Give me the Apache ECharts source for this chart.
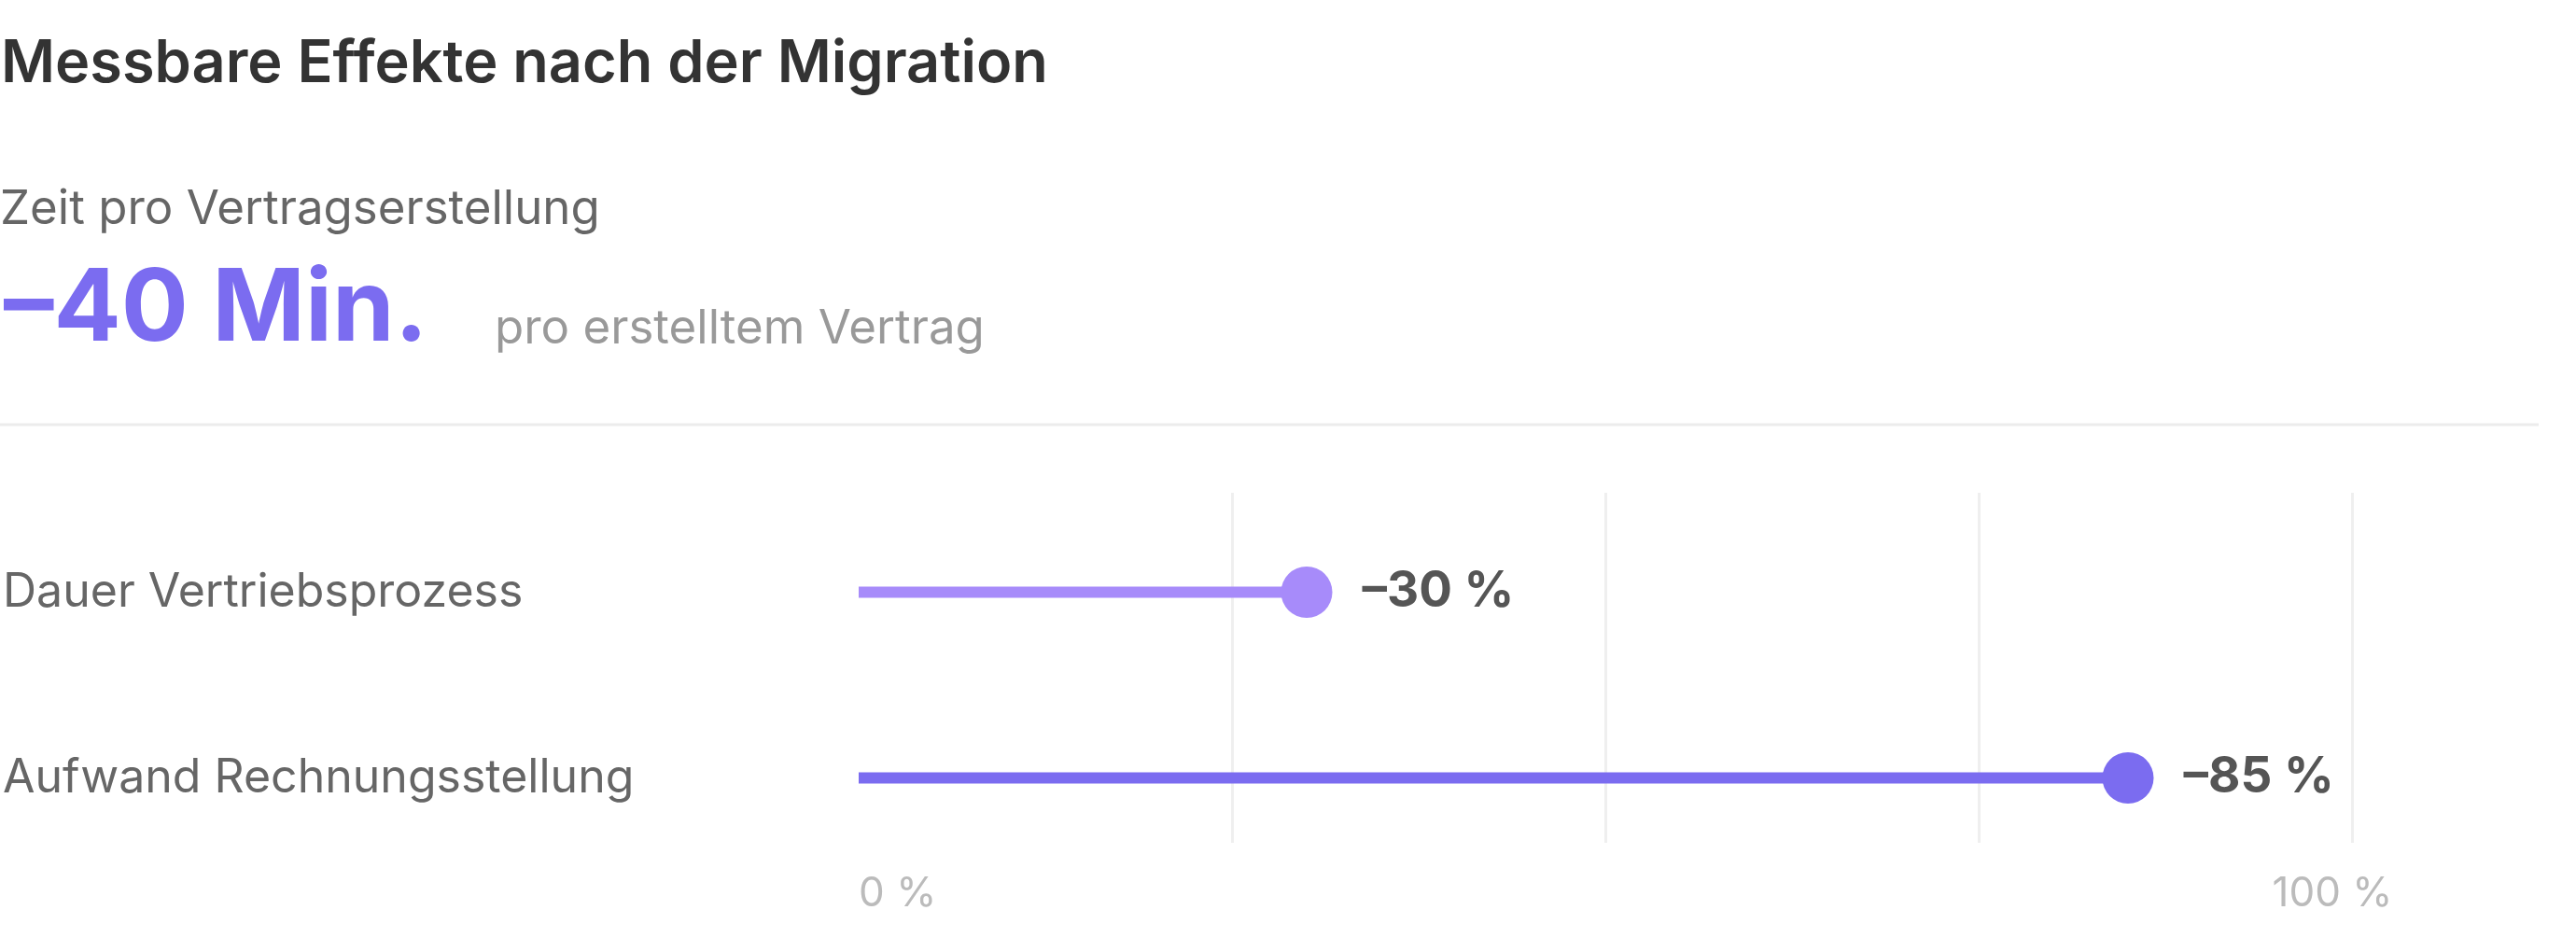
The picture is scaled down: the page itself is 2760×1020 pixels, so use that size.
<!DOCTYPE html>
<html>
<head>
<meta charset="utf-8">
<title>Messbare Effekte nach der Migration</title>
<script src="https://cdn.jsdelivr.net/npm/echarts@6.0.0/dist/echarts.min.js"></script>
<style>
  html, body { margin: 0; padding: 0; background: #fff; }
  #effekte { width: 2760px; height: 1020px; }
</style>
</head>
<body>
<div id="effekte"></div>
<script>
  // Werte aus der Grafik
  const categories = ['Dauer Vertriebsprozess', 'Aufwand Rechnungsstellung'];
  const reductions = [30, 85];
  const shownTicks = [0, 100];
  const kpiLabel = 'Zeit pro Vertragserstellung';
  const kpiValue = '–40 Min.';
  const kpiUnit = 'pro erstelltem Vertrag';

  const rowColors = ['#a78bfa', '#7b6cf0'];
  const fontFam = 'Inter, "Noto Sans", sans-serif';

  let chart = echarts.init(document.getElementById('effekte'));
  let option = {
    backgroundColor: '#fff',
    textStyle: { fontFamily: fontFam },
    graphic: [
      { type: 'text', x: 1, y: 69,
        style: { text: 'Messbare Effekte nach der Migration', font: '600 63px ' + fontFam, fill: '#333', verticalAlign: 'middle' } },
      { type: 'text', x: 0, y: 225,
        style: { text: kpiLabel, font: '400 51px ' + fontFam, fill: '#666', verticalAlign: 'middle' } },
      { type: 'text', x: 4, y: 333,
        style: { text: kpiValue, font: '700 107px ' + fontFam, fill: '#7b6cf0', verticalAlign: 'middle' } },
      { type: 'text', x: 530, y: 353,
        style: { text: kpiUnit, font: '400 51px ' + fontFam, fill: '#999', verticalAlign: 'middle' } },
      { type: 'line', shape: { x1: 0, y1: 455, x2: 2720, y2: 455 },
        style: { stroke: '#ececec', lineWidth: 3 } }
    ],
    grid: [
      { left: 920, right: 240, top: 535, height: 398 },
      { left: 920, right: 240, top: 528, bottom: 117 }
    ],
    xAxis: [
      { gridIndex: 0, type: 'value', min: 0, max: 100, show: false },
      {
        gridIndex: 1, type: 'value', min: 0, max: 100, interval: 25,
        axisLine: { show: false },
        axisTick: { show: false },
        splitLine: { show: true, showMinLine: false, lineStyle: { color: '#efefef', width: 3 } },
        axisLabel: {
          margin: 33,
          fontSize: 44,
          color: '#bbb',
          fontFamily: fontFam,
          formatter: function (v) {
            return shownTicks.indexOf(v) >= 0 ? v + ' %' : '';
          },
          alignMinLabel: 'left',
          alignMaxLabel: 'center',
          padding: [0, 42, 0, 0]
        }
      }
    ],
    yAxis: [
      {
        gridIndex: 0, type: 'category', data: categories, inverse: true,
        axisLine: { show: false },
        axisTick: { show: false },
        splitLine: { show: false },
        axisLabel: { align: 'left', margin: 917, fontSize: 50, color: '#666', fontFamily: fontFam, padding: [6, 0, 0, 0] }
      },
      { gridIndex: 1, type: 'value', show: false }
    ],
    series: [
      {
        type: 'bar',
        xAxisIndex: 0, yAxisIndex: 0,
        barWidth: 12,
        silent: true,
        data: reductions.map(function (v, i) {
          return { value: v, itemStyle: { color: rowColors[i] } };
        })
      },
      {
        type: 'scatter',
        xAxisIndex: 0, yAxisIndex: 0,
        symbolSize: 55,
        itemStyle: { opacity: 1 },
        data: reductions.map(function (v, i) {
          return { value: [v, categories[i]], itemStyle: { color: rowColors[i], opacity: 1 } };
        }),
        label: {
          show: true,
          position: 'right',
          distance: 32,
          fontSize: 53,
          fontWeight: 700,
          color: '#555',
          fontFamily: fontFam,
          padding: [6, 0, 0, 0],
          formatter: function (p) { return '–' + p.value[0] + ' %'; }
        }
      }
    ]
  };
  chart.setOption(option, true);
</script>
</body>
</html>
